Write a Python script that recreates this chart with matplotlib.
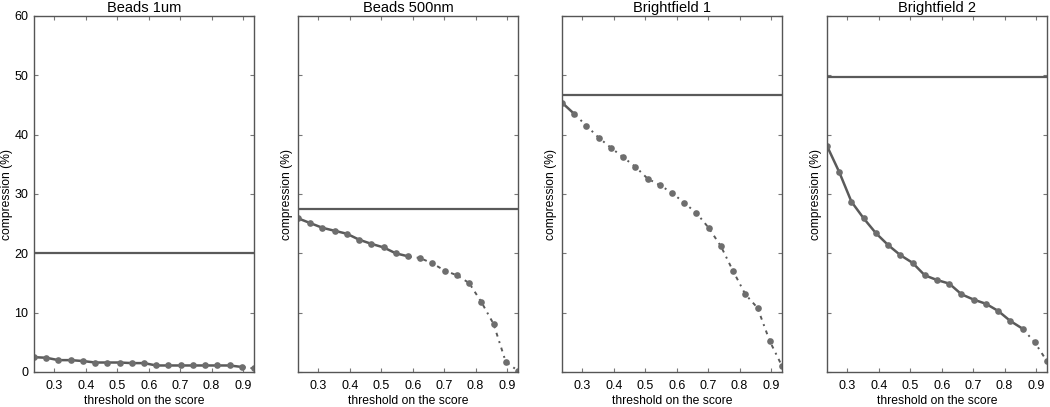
import numpy as np
import matplotlib
matplotlib.use("Agg")
import matplotlib.pyplot as plt

plt.rcParams['font.family'] = ['Liberation Sans', 'DejaVu Sans']

thresholds = np.linspace(0.235, 0.935, 19)

titles = ["Beads 1um", "Beads 500nm", "Brightfield 1", "Brightfield 2"]
baseline = [20.0, 27.4, 46.7, 49.7]
solid_end = [17, 9, 1, 16]   # last index drawn with a solid line

beads_1um = [2.5, 2.4, 2.0, 2.0, 1.85, 1.6, 1.6, 1.6, 1.5, 1.5,
             1.1, 1.1, 1.1, 1.1, 1.1, 1.1, 1.1, 0.85, 0.6]
beads_500nm = [25.9, 25.1, 24.3, 23.8, 23.3, 22.3, 21.6, 21.0, 20.0, 19.5,
               19.2, 18.3, 17.1, 16.3, 15.0, 11.8, 8.1, 1.7, 0.2]
brightfield_1 = [45.4, 43.5, 41.5, 39.5, 37.8, 36.2, 34.6, 32.6, 31.5, 30.2,
                 28.5, 26.8, 24.3, 21.2, 17.0, 13.1, 10.8, 5.2, 1.0]
brightfield_2 = [38.1, 33.7, 28.7, 25.9, 23.4, 21.4, 19.7, 18.4, 16.3, 15.5,
                 14.9, 13.1, 12.2, 11.5, 10.3, 8.6, 7.3, 5.0, 1.8]
series = [beads_1um, beads_500nm, brightfield_1, brightfield_2]

xticks = [0.3, 0.4, 0.5, 0.6, 0.7, 0.8, 0.9]
yticks = [0, 10, 20, 30, 40, 50, 60]

line_col = "#5a5a5a"
mark_col = "#6e6e6e"

fig = plt.figure(figsize=(10.5, 4.07), dpi=100)
lefts = [34, 298, 562, 827]

for i in range(4):
	ax = fig.add_axes([lefts[i] / 1050, 35 / 407, 220 / 1050, 356 / 407])
	y = np.array(series[i])
	k = solid_end[i]
	ax.axhline(baseline[i], color=line_col, lw=1.6)
	ax.plot(thresholds[:k + 1], y[:k + 1], "-", color=line_col, lw=1.8)
	ax.plot(thresholds[k:], y[k:], color=line_col, lw=1.4, ls=(0, (2, 2.5, 1, 2.5)))
	ax.plot(thresholds, y, "o", color=mark_col, ms=4.8, mew=0)
	ax.set_xlim(thresholds[0], thresholds[-1])
	ax.set_ylim(0, 60)
	ax.set_xticks(xticks)
	ax.set_yticks(yticks)
	ax.tick_params(direction="in", top=True, right=True, length=3,
		color="#777777", labelsize=9, pad=4)
	ax.tick_params(axis="x", pad=6)
	if i > 0:
		ax.set_yticklabels([])
	for s in ax.spines.values():
		s.set_color("#555555")
		s.set_linewidth(1.0)
	ax.set_title(titles[i], fontsize=10.5, pad=3)
	ax.set_xlabel("threshold on the score", fontsize=8.7, labelpad=2)
	ax.set_ylabel("compression (%)", fontsize=8.7)
	ax.yaxis.set_label_coords(-0.095 if i == 0 else -0.023, 0.5)

fig.savefig("out.png", dpi=100)
